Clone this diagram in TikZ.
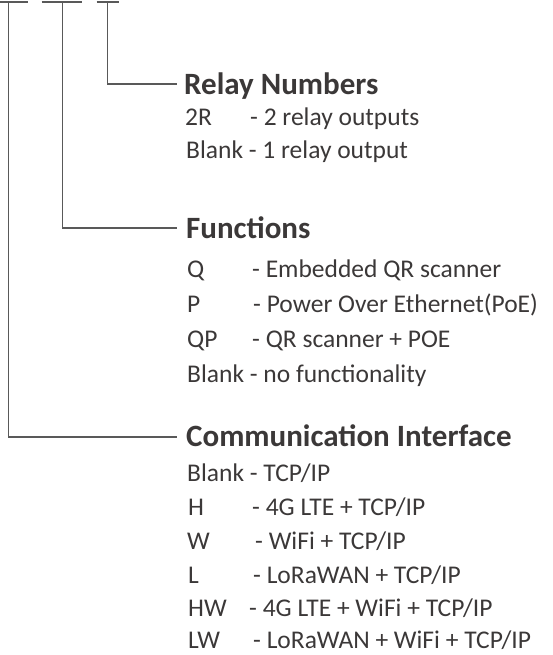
\documentclass[tikz,border=0pt]{standalone}
\usepackage{fontspec}
\setmainfont{Carlito}
\definecolor{txt}{HTML}{3B3838}
\definecolor{ln}{HTML}{595959}
\begin{document}
\begin{tikzpicture}[x=1pt,y=-1pt,
  conn/.style={draw=ln,line width=1.3pt},
  head/.style={inner sep=0pt,anchor=base west,text=txt,font=\fontsize{31}{36}\selectfont\bfseries},
  item/.style={inner sep=0pt,anchor=base west,text=txt,font=\fontsize{25.5}{30}\selectfont}]
\useasboundingbox (0,0) rectangle (553,655);
% top bars
\coordinate (b1l) at (0,2); \coordinate (b1r) at (27.5,2); \coordinate (t1) at (8.5,2);
\coordinate (b2l) at (41.7,2); \coordinate (b2r) at (81.7,2); \coordinate (t2) at (62.3,2);
\coordinate (b3l) at (96.7,2); \coordinate (b3r) at (119,2); \coordinate (t3) at (107.3,2);
\draw[conn] (b1l) -- (b1r);
\draw[conn] (b2l) -- (b2r);
\draw[conn] (b3l) -- (b3r);
% line ends
\coordinate (e3) at (177,84);
\coordinate (e2) at (177,228);
\coordinate (e1) at (177,437);
\draw[conn] (t3) |- (e3);
\draw[conn] (t2) |- (e2);
\draw[conn] (t1) |- (e1);
% Relay
\node[head] (rh) at (184,95) {Relay Numbers};
\node[item] (r1a) at (185,126) {2R};
\node[item] (r1b) at (250,126) {- 2 relay outputs};
\node[item] (r2) at (186,159) {Blank - 1 relay output};
% Functions
\node[head] (fh) at (186,238) {Functions};
\node[item] (f1a) at (187,277) {Q};
\node[item] (f1b) at (252,277) {- Embedded QR scanner};
\node[item] (f2a) at (187,312) {P};
\node[item] (f2b) at (253,312) {- Power Over Ethernet(PoE)};
\node[item] (f3a) at (187,347) {QP};
\node[item] (f3b) at (252,347) {- QR scanner + POE};
\node[item] (f4) at (187,382) {Blank - no functionality};
% Communication
\node[head] (ch) at (186,446) {Communication Interface};
\node[item] (c1) at (187,481) {Blank - TCP/IP};
\node[item] (c2a) at (188,515) {H};
\node[item] (c2b) at (252,515) {- 4G LTE + TCP/IP};
\node[item] (c3a) at (187,549) {W};
\node[item] (c3b) at (255,549) {- WiFi + TCP/IP};
\node[item] (c4a) at (188,583) {L};
\node[item] (c4b) at (253,583) {- LoRaWAN + TCP/IP};
\node[item] (c5a) at (188,616) {HW};
\node[item] (c5b) at (249,616) {- 4G LTE + WiFi + TCP/IP};
\node[item] (c6a) at (188,648) {LW};
\node[item] (c6b) at (253,648) {- LoRaWAN + WiFi + TCP/IP};
\end{tikzpicture}
\end{document}
